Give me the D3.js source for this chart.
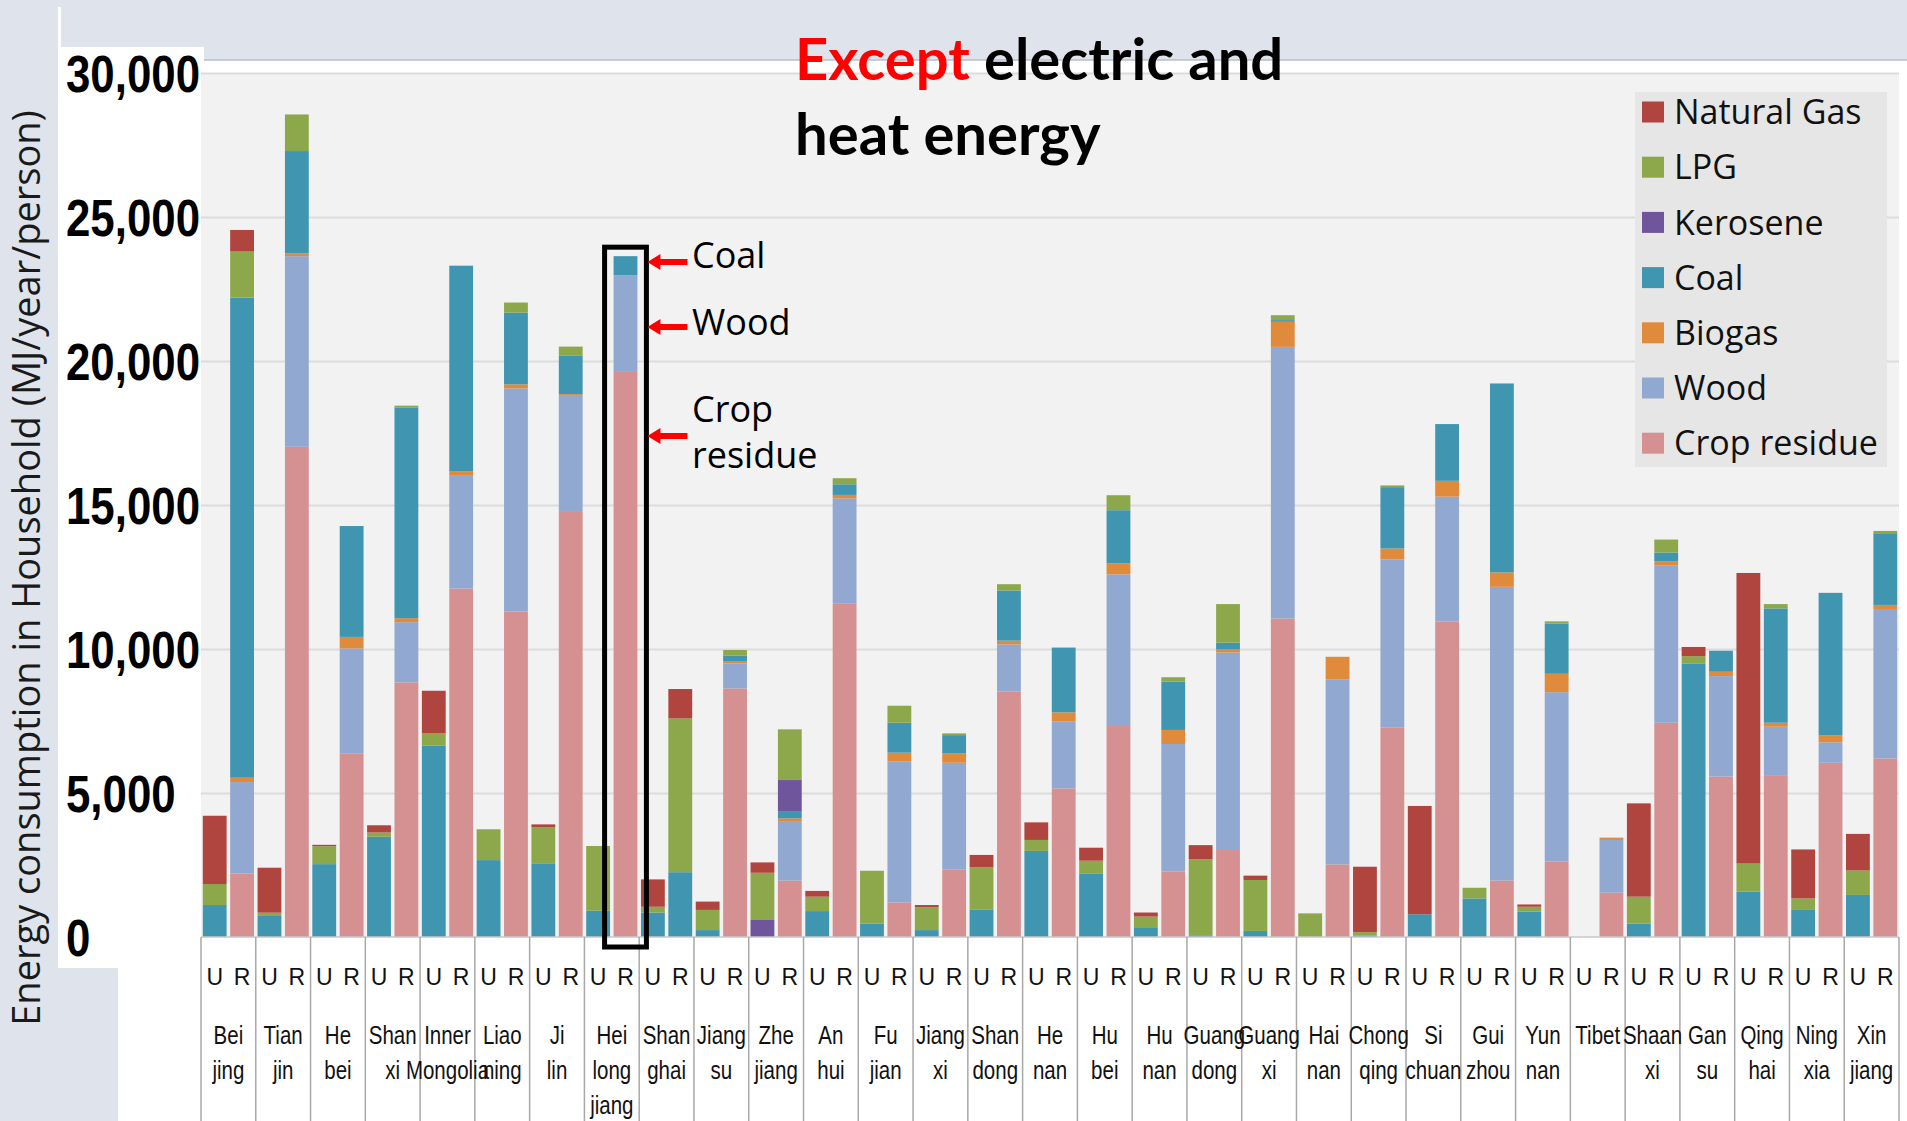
<!DOCTYPE html>
<html>
<head>
<meta charset="utf-8">
<script src="https://cdn.jsdelivr.net/npm/d3@7"></script>
<style>
body { margin: 0; background: #dfe4ec; }
svg { display: block; }
</style>
</head>
<body>
<svg id="chart" width="1907" height="1121"></svg>
<script>
const provinces = ["Beijing","Tianjin","Hebei","Shanxi","Inner Mongolia","Liaoning","Jilin","Heilongjiang",
  "Shanghai","Jiangsu","Zhejiang","Anhui","Fujian","Jiangxi","Shandong","Henan","Hubei","Hunan",
  "Guangdong","Guangxi","Hainan","Chongqing","Sichuan","Guizhou","Yunnan","Tibet","Shaanxi","Gansu",
  "Qinghai","Ningxia","Xinjiang"];
const provinceLines = [["Bei","jing"],["Tian","jin"],["He","bei"],["Shan","xi"],["Inner","Mongolia"],
  ["Liao","ning"],["Ji","lin"],["Hei","long","jiang"],["Shan","ghai"],["Jiang","su"],["Zhe","jiang"],
  ["An","hui"],["Fu","jian"],["Jiang","xi"],["Shan","dong"],["He","nan"],["Hu","bei"],["Hu","nan"],
  ["Guang","dong"],["Guang","xi"],["Hai","nan"],["Chong","qing"],["Si","chuan"],["Gui","zhou"],
  ["Yun","nan"],["Tibet"],["Shaan","xi"],["Gan","su"],["Qing","hai"],["Ning","xia"],["Xin","jiang"]];
const areas = ["U", "R"];
const fuels = ["Natural Gas","LPG","Kerosene","Coal","Biogas","Wood","Crop residue"];
const fuelColors = ["#b0443f","#8da74b","#6f559c","#4095b0","#e08a3c","#91a8d0","#d59091"];
const yTicks = [0, 5000, 10000, 15000, 20000, 25000, 30000];

// MJ/year/person, one value per province (same order as provinces)
const natGasU = [2370,1560,50,250,1480,0,100,0,950,290,360,200,0,80,430,610,450,140,490,150,0,2270,3760,0,80,0,3240,320,10090,1700,1270];
const natGasR = [750,0,0,0,0,0,0,0,1020,0,0,0,0,0,0,0,0,0,0,0,0,0,0,0,0,0,0,0,0,0,0];
const lpgU = [730,115,620,150,430,1070,1250,2250,200,700,1640,500,1830,790,1460,380,440,370,2640,1770,820,120,0,370,170,0,930,250,980,400,850];
const lpgR = [1600,1270,0,60,0,350,320,0,5340,200,1760,210,590,60,220,0,520,150,1340,170,0,60,0,0,80,0,450,0,150,0,80];
const keroseneU = [0,0,0,0,0,0,0,0,0,0,590,0,0,0,0,0,0,0,0,0,0,0,0,0,0,0,0,0,0,0,0];
const keroseneR = [0,0,0,0,0,0,0,0,0,0,1100,0,0,0,0,0,0,0,0,0,0,0,0,0,0,0,0,0,0,0,0];
const coalU = [1110,730,2530,3480,6640,2670,2560,910,850,240,0,900,470,240,960,2990,2210,340,60,210,0,50,790,1340,880,0,470,9500,1570,940,1460];
const coalR = [16670,3550,3850,7320,7150,2490,1330,660,2250,185,230,370,1040,640,1740,2250,1850,1680,220,60,0,2130,1970,6560,1740,0,300,730,3970,4940,2490];
const biogasU = [0,0,0,0,0,0,0,0,0,0,0,0,0,0,0,0,0,0,0,0,0,0,0,0,0,0,0,0,0,0,0];
const biogasR = [150,100,400,140,120,140,60,0,0,80,120,120,310,320,130,320,380,490,120,870,790,380,550,500,640,80,140,150,140,250,140];
const woodU = [0,0,0,0,0,0,0,0,0,0,0,0,0,0,0,0,0,0,0,0,0,0,0,0,0,0,0,0,0,0,0];
const woodR = [3180,6620,3640,2090,3940,7750,4000,3330,0,870,2040,3640,4890,3700,1640,2320,5230,4430,6860,9430,6420,5830,4340,10200,5880,1830,5470,3490,1680,710,5190];
const cropU = [0,0,0,0,0,0,0,0,0,0,0,0,0,0,0,0,0,0,0,0,0,0,0,0,0,0,0,0,0,0,0];
const cropR = [2200,17020,6380,8840,12100,11300,14790,19650,0,8630,1960,11590,1200,2350,8520,5160,7360,2270,3020,11060,2520,7280,10950,1960,2620,1540,7440,5570,5620,6050,6200];

const urban = [natGasU, lpgU, keroseneU, coalU, biogasU, woodU, cropU];
const rural = [natGasR, lpgR, keroseneR, coalR, biogasR, woodR, cropR];

const rows = [];
provinces.forEach((p, i) => {
  areas.forEach(a => {
    const src = a === "U" ? urban : rural;
    const row = { key: p + "|" + a, province: p, area: a };
    fuels.forEach((f, j) => { row[f] = src[j][i]; });
    rows.push(row);
  });
});

const svg = d3.select("#chart");
const W = 1907, H = 1121;
const x0 = 201, x1 = 1899, yBase = 937;

const xProv = d3.scaleBand().domain(provinces).range([x0, x1]);
const xBar = d3.scaleBand().domain(rows.map(d => d.key)).range([x0, x1])
  .paddingInner(0.13).paddingOuter(0.065);
const y = d3.scaleLinear().domain([0, 30000]).range([yBase, 73]);
const color = d3.scaleOrdinal().domain(fuels).range(fuelColors);

// slide background pieces
svg.append("rect").attr("width", W).attr("height", H).attr("fill", "#dfe4ec");
svg.append("rect").attr("x", 58).attr("y", 47).attr("width", 146).attr("height", 921).attr("fill", "#fff");
svg.append("rect").attr("x", 58).attr("y", 7).attr("width", 3).attr("height", 40).attr("fill", "#fff");
svg.append("rect").attr("x", 118).attr("y", 60).attr("width", W - 118).attr("height", H - 60).attr("fill", "#fff");
svg.append("line").attr("x1", 204).attr("x2", W).attr("y1", 60).attr("y2", 60)
  .attr("stroke", "#b9bfc9").attr("stroke-width", 1.5);

// plot area
svg.append("rect").attr("x", x0).attr("y", y(30000)).attr("width", x1 - x0)
  .attr("height", yBase - y(30000)).attr("fill", "#f2f2f2");

const grid = svg.append("g").attr("transform", `translate(${x0},0)`)
  .call(d3.axisRight(y).tickValues(yTicks.slice(1)).tickSize(x1 - x0).tickFormat(""));
grid.select(".domain").remove();
grid.selectAll("line").attr("stroke", "#dcdcdc").attr("stroke-width", 2);

// stacked bars, crop residue at the bottom
const stackKeys = fuels.slice().reverse();
const series = d3.stack().keys(stackKeys)(rows);

svg.append("g").selectAll("g").data(series).join("g")
  .attr("fill", d => color(d.key))
  .selectAll("rect").data(d => d).join("rect")
  .attr("x", d => xBar(d.data.key))
  .attr("width", xBar.bandwidth())
  .attr("y", d => y(d[1]))
  .attr("height", d => y(d[0]) - y(d[1]));

svg.append("line").attr("x1", x0).attr("x2", x1).attr("y1", yBase).attr("y2", yBase)
  .attr("stroke", "#c8c8c8").attr("stroke-width", 1.5);

// province dividers below the axis
const bounds = provinces.map(p => xProv(p)).concat([x1]);
svg.append("g").selectAll("line").data(bounds).join("line")
  .attr("x1", d => d).attr("x2", d => d).attr("y1", yBase).attr("y2", H)
  .attr("stroke", "#a8a8a8").attr("stroke-width", 1.5);

// y axis tick labels (narrow bold digits, left aligned)
const yAxis = svg.append("g").attr("transform", `translate(${x0},0)`)
  .call(d3.axisLeft(y).tickValues(yTicks).tickSize(0).tickFormat(d3.format(",")));
yAxis.select(".domain").remove();
yAxis.selectAll("text")
  .attr("x", 0).attr("dy", "0.36em").attr("text-anchor", "start")
  .attr("transform", `translate(${66 - x0},0) scale(0.843,1)`)
  .attr("font-family", "'Liberation Sans', Arial, sans-serif")
  .attr("font-weight", "bold").attr("font-size", 52).attr("fill", "#000");

// U / R labels
const uAxis = svg.append("g").attr("transform", `translate(0,${yBase})`)
  .call(d3.axisBottom(xBar).tickSize(0).tickFormat(k => k.split("|")[1]));
uAxis.select(".domain").remove();
uAxis.selectAll("text").attr("y", 48).attr("dy", 0)
  .attr("font-family", "'Liberation Sans', Arial, sans-serif").attr("font-size", 23).attr("fill", "#111");

// province names
const provText = svg.append("g")
  .attr("font-family", "'Liberation Sans', Arial, sans-serif").attr("font-size", 25)
  .attr("fill", "#111").attr("text-anchor", "middle")
  .selectAll("text").data(provinces).join("text")
  .attr("transform", p => `translate(${xProv(p) + xProv.bandwidth() / 2},0) scale(0.82,1)`);
provText.selectAll("tspan").data((p, i) => provinceLines[i]).join("tspan")
  .attr("x", 0)
  .attr("y", (d, j) => 1044 + j * 35)
  .text(d => d);

// legend
const legend = svg.append("g");
legend.append("rect").attr("x", 1635).attr("y", 92).attr("width", 252).attr("height", 375).attr("fill", "#e6e6e6");
const li = legend.selectAll("g").data(fuels).join("g")
  .attr("transform", (d, i) => `translate(1642,${112 + i * 55.2})`);
li.append("rect").attr("y", -10.5).attr("width", 22).attr("height", 21).attr("fill", d => color(d));
li.append("text").attr("x", 32).attr("dy", "0.36em")
  .attr("font-family", "'Open Sans', sans-serif").attr("font-size", 34).attr("fill", "#111")
  .text(d => d);

// title
const title = svg.append("text").attr("font-family", "Lato, sans-serif").attr("font-weight", "bold")
  .attr("font-size", 58).attr("fill", "#000");
const t1 = title.append("tspan").attr("x", 795).attr("y", 80);
t1.append("tspan").attr("fill", "#ff0000").text("Except");
t1.append("tspan").text(" electric and");
title.append("tspan").attr("x", 795).attr("y", 155).text("heat energy");

// y axis title
svg.append("text")
  .attr("transform", "translate(40,568) rotate(-90)")
  .attr("text-anchor", "middle")
  .attr("font-family", "'Open Sans', sans-serif").attr("font-size", 38).attr("fill", "#1a1a1a")
  .text("Energy consumption in Household (MJ/year/person)");

// highlight box around Heilongjiang rural
const hlKey = "Heilongjiang|R";
const hlRow = rows.find(d => d.key === hlKey);
const hlTop = d3.sum(fuels, f => hlRow[f]);
svg.append("rect")
  .attr("x", xBar(hlKey) - 9).attr("width", xBar.bandwidth() + 18)
  .attr("y", y(hlTop) - 9).attr("height", 947 - (y(hlTop) - 9))
  .attr("fill", "none").attr("stroke", "#000").attr("stroke-width", 5);

// annotations with arrows
const notes = [
  { lines: ["Coal"], arrowY: 262, textY: 268 },
  { lines: ["Wood"], arrowY: 327, textY: 335 },
  { lines: ["Crop", "residue"], arrowY: 436, textY: 422 }
];
const tipX = xBar(hlKey) + xBar.bandwidth() + 9 + 1;
const ann = svg.append("g");
ann.selectAll("path").data(notes).join("path")
  .attr("d", d => `M${tipX + 40},${d.arrowY - 3} L${tipX + 13},${d.arrowY - 3} L${tipX + 13},${d.arrowY - 8}
    L${tipX},${d.arrowY} L${tipX + 13},${d.arrowY + 8} L${tipX + 13},${d.arrowY + 3} L${tipX + 40},${d.arrowY + 3} Z`)
  .attr("fill", "#ff0000");
const annText = ann.selectAll("text").data(notes).join("text")
  .attr("font-family", "'Open Sans', sans-serif").attr("font-size", 36).attr("fill", "#000");
annText.selectAll("tspan").data(d => d.lines.map((l, j) => ({ l, y: d.textY + j * 46 }))).join("tspan")
  .attr("x", 692).attr("y", d => d.y).text(d => d.l);
</script>
</body>
</html>
